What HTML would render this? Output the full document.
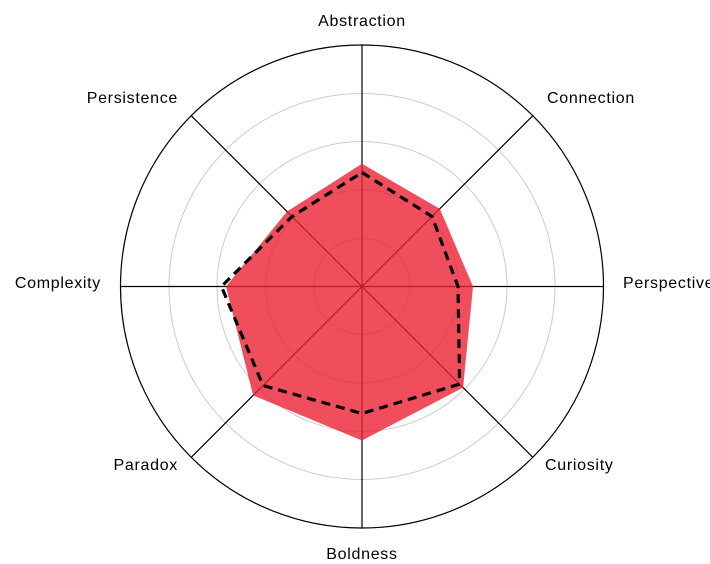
<!DOCTYPE html>
<html><head><meta charset="utf-8"><style>
html,body{margin:0;padding:0;background:#fff;}
svg{display:block;}
text{font-family:"Liberation Sans",Arial,sans-serif;font-size:16px;letter-spacing:0.7px;fill:#000;}
</style></head><body>
<svg width="710" height="564" viewBox="0 0 710 564" xmlns="http://www.w3.org/2000/svg">
<g fill="none" stroke="#cccccc" stroke-width="1">
<circle cx="362" cy="286.5" r="48"/>
<circle cx="362" cy="286.5" r="96.5"/>
<circle cx="362" cy="286.5" r="145"/>
<circle cx="362" cy="286.5" r="193"/>
</g>
<circle cx="362" cy="286.5" r="241.5" fill="none" stroke="#000" stroke-width="1.2"/>
<g stroke="#000" stroke-width="1.2">
<line x1="362" y1="286.5" x2="362" y2="45"/>
<line x1="362" y1="286.5" x2="362" y2="528"/>
<line x1="120.5" y1="286.5" x2="603.5" y2="286.5"/>
<line x1="191.2" y1="115.7" x2="532.8" y2="457.3"/>
<line x1="532.8" y1="115.7" x2="191.2" y2="457.3"/>
</g>
<polygon fill="rgba(238,34,52,0.8)" points="362,163.8 439.8,208.7 473,286.5 463.1,387.6 362,440.5 253.1,395.4 226,286.5 287.0,211.5"/>
<polygon fill="none" stroke="#000" stroke-width="3.2" stroke-dasharray="9,6" points="362,172.5 432,216.5 458,286.5 459.6,384.1 362,413.5 263,385.5 221.4,286.5 292,216.5"/>
<text x="362" y="26" text-anchor="middle">Abstraction</text>
<text x="547" y="103">Connection</text>
<text x="623" y="288">Perspective</text>
<text x="545" y="470">Curiosity</text>
<text x="362" y="559" text-anchor="middle">Boldness</text>
<text x="178" y="103" text-anchor="end">Persistence</text>
<text x="101" y="288" text-anchor="end">Complexity</text>
<text x="178" y="470" text-anchor="end">Paradox</text>
</svg>
</body></html>
